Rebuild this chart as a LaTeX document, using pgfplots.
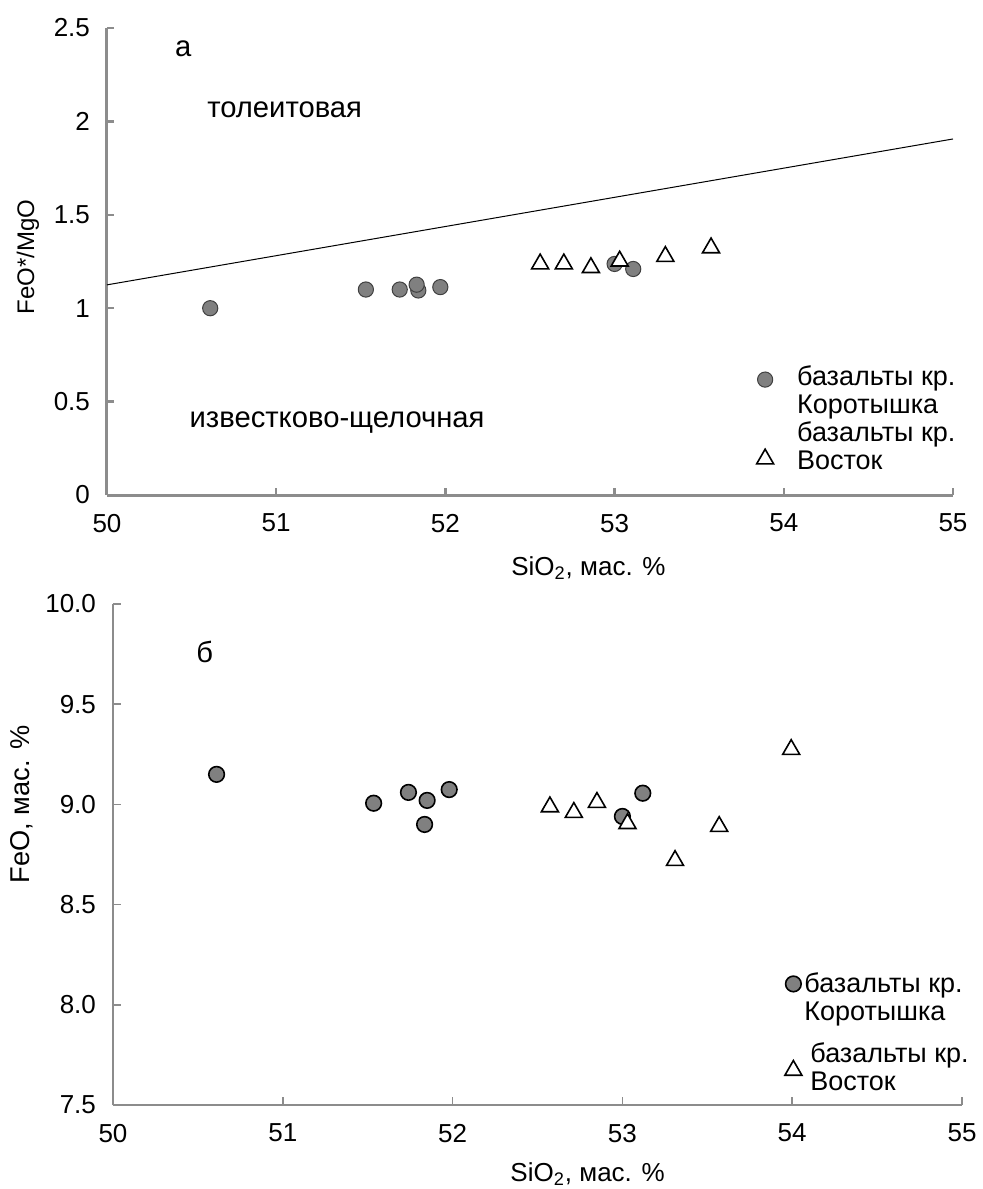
\documentclass[border=0pt]{standalone}
\usepackage{fontspec}
\setmainfont{Liberation Sans}
\usepackage{pgfplots}
\pgfplotsset{compat=1.18}
\definecolor{axgray}{RGB}{140,140,140}
\definecolor{ptgray}{RGB}{128,128,128}
\newcommand{\fs}{\fontsize{13}{14}\selectfont}
\newcommand{\fsl}{\fontsize{13.5}{14}\selectfont}
\newcommand{\fsb}{\fontsize{14.6}{16}\selectfont}
\pgfplotsset{
  basestyle/.style={
    scale only axis,
    axis x line*=bottom, axis y line*=left,
    tick align=inside,
    xmin=50, xmax=55, xtick={50,51,52,53,54,55},
    font=\fs,
    /pgf/number format/assume math mode=true,
    ticklabel style={font=\fs},
    yticklabel style={xshift=-5pt},
    xticklabel style={yshift=-6pt},
    clip=false,
    legend style={draw=none, fill=none, inner sep=0pt, font=\fsl, legend cell align=left, row sep=0pt},
  },
  circ/.style={only marks, mark=*, mark size=3.8pt, mark options={fill=ptgray, draw=black!75, line width=0.5pt}},
  circB/.style={only marks, mark=*, mark size=3.9pt, mark options={fill=ptgray, draw=black, line width=0.8pt}},
  tri/.style={only marks, mark=triangle*, mark size=4.9pt, mark options={fill=white, draw=black, line width=0.8pt, yshift=-1.2pt}},
  limgTop/.style={legend image code/.code={\path[draw=none,fill=none] (-4pt,-1pt) rectangle (16pt,1pt);\draw[##1,overlay] plot coordinates {(0pt,0pt)};}},
  limgTopTri/.style={legend image code/.code={\path[draw=none,fill=none] (-4pt,-1pt) rectangle (16pt,1pt);\draw[##1,overlay,yshift=3.5pt] plot coordinates {(0pt,0pt)};}},
  limgBot/.style={legend image code/.code={\path[draw=none,fill=none] (-4pt,-1pt) rectangle (5.5pt,1pt);\draw[##1,overlay,yshift=3pt] plot coordinates {(0pt,0pt)};}},
}
\begin{document}
\begin{tikzpicture}
\path[use as bounding box] (0,0) rectangle (491.5pt,-594.5pt);
% ---------- panel a ----------
\begin{axis}[basestyle,
  at={(53.5pt,-247.5pt)}, anchor=origin,
  width=423pt, height=233.5pt,
  ymin=0, ymax=2.5, ytick={0,0.5,1,1.5,2,2.5},
  yticklabels={0,0.5,1,1.5,2,2.5},
  axis line style={axgray, line width=1.5pt},
  tick style={axgray, line width=1.2pt},
  major tick length=3.5pt,
  xlabel={SiO\textsubscript{2}, мас. \%},
  xlabel style={at={(axis description cs:0.569,-0.156)}, anchor=center},
  ylabel={FeO*/MgO},
  ylabel style={at={(axis description cs:-0.0934,0.51)}, anchor=center, font=\fontsize{12}{14}\selectfont},
  legend style={at={(rel axis cs:0.768,0.278)}, anchor=north west, nodes={inner sep=0pt, text height=10pt, text depth=4pt}},
]
\addplot[black, line width=0.5pt, forget plot] coordinates {(50,1.125) (55,1.906)};
\addplot[circ, forget plot] coordinates {
(50.61,1.000) (51.53,1.100) (51.73,1.100) (51.84,1.095) (51.83,1.126) (51.97,1.113) (53.00,1.237) (53.11,1.210)};
\addplot[tri, forget plot] coordinates {
(52.56,1.250) (52.70,1.250) (52.86,1.230) (53.03,1.265) (53.30,1.290) (53.57,1.336)};
\addlegendimage{circ, limgTop}
\addlegendentry{базальты кр.}
\addlegendimage{empty legend}
\addlegendentry{Коротышка}
\addlegendimage{empty legend}
\addlegendentry{базальты кр.}
\addlegendimage{tri, limgTopTri}
\addlegendentry{Восток}
\node[font=\fsb] at (axis cs:50.45,2.39) {а};
\node[font=\fsb] at (axis cs:51.05,2.06) {толеитовая};
\node[font=\fsb] at (axis cs:51.36,0.39) {известково-щелочная};
\end{axis}
% ---------- panel b ----------
\begin{axis}[basestyle,
  at={(56.5pt,-552.5pt)}, anchor=origin,
  width=424.5pt, height=250.5pt,
  ymin=7.5, ymax=10, ytick={7.5,8,8.5,9,9.5,10},
  yticklabels={7.5,8.0,8.5,9.0,9.5,10.0},
  axis line style={axgray, line width=1pt},
  tick style={axgray, line width=0.8pt},
  major tick length=4pt,
  xlabel={SiO\textsubscript{2}, мас. \%},
  xlabel style={at={(axis description cs:0.559,-0.138)}, anchor=center},
  ylabel={FeO, мас. \%},
  ylabel style={at={(axis description cs:-0.108,0.60)}, anchor=center, font=\fontsize{13.6}{15}\selectfont},
  legend style={at={(rel axis cs:0.7915,0.2445)}, anchor=north west, nodes={inner sep=0pt, text height=5pt, text depth=2pt}},
]
\addplot[circB, forget plot] coordinates {
(50.61,9.150) (51.535,9.006) (51.74,9.060) (51.85,9.020) (51.835,8.900) (51.98,9.074) (53.00,8.940) (53.12,9.056)};
\addplot[tri, forget plot] coordinates {
(52.573,9.000) (52.714,8.972) (52.85,9.022) (53.03,8.916) (53.31,8.732) (53.57,8.902) (53.994,9.286)};
\addlegendimage{circB, limgBot}
\addlegendentry{базальты кр.}
\addlegendimage{empty legend}
\addlegendentry{}
\addlegendimage{empty legend}
\addlegendentry{Коротышка}
\addlegendimage{empty legend}
\addlegendentry{}
\addlegendimage{empty legend}
\addlegendentry{}
\addlegendimage{empty legend}
\addlegendentry{\hspace{3pt}базальты кр.}
\addlegendimage{tri, limgBot}
\addlegendentry{}
\addlegendimage{empty legend}
\addlegendentry{\hspace{3pt}Восток}
\node[font=\fsb] at (axis cs:50.54,9.76) {б};
\end{axis}
\end{tikzpicture}
\end{document}
